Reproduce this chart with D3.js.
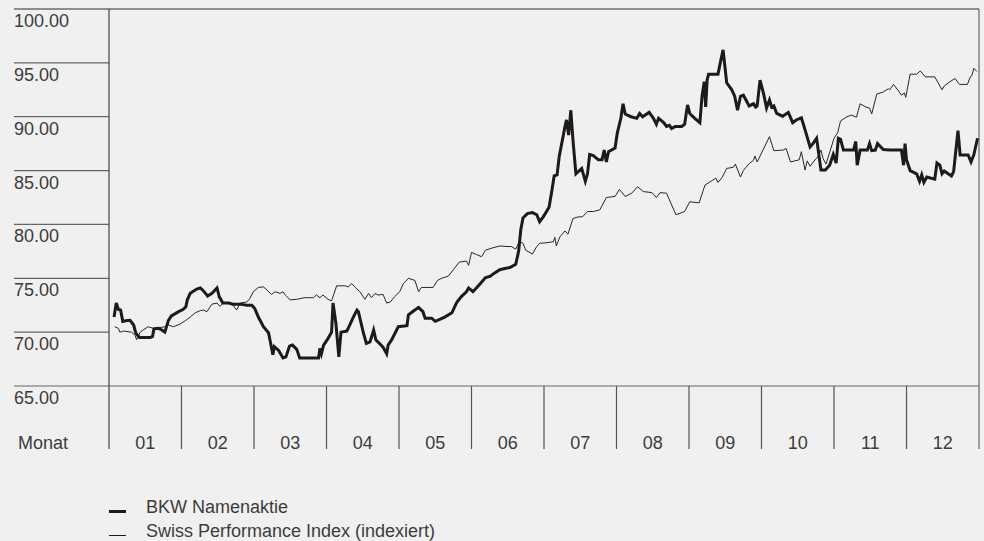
<!DOCTYPE html>
<html>
<head>
<meta charset="utf-8">
<script src="https://cdn.jsdelivr.net/npm/d3@7"></script>
<style>
  html, body { margin: 0; padding: 0; background: #f0f0f0; }
  svg { display: block; }
  text { font-family: "Liberation Sans", Arial, sans-serif; fill: #3c3c3c; }
</style>
</head>
<body>
<div class="chart"></div>
<script>
// Configuration
var width = 984;
var height = 541;

// month labels and value ticks
var months = ["01", "02", "03", "04", "05", "06", "07", "08", "09", "10", "11", "12"];
var yTicks = [65, 70, 75, 80, 85, 90, 95, 100];

// BKW Namenaktie: [month position, value]
var bkwSeries = [
  [0.07, 71.4], [0.10, 72.7], [0.13, 72.1], [0.16, 72.05], [0.19, 71.0], [0.23, 71.06],
  [0.29, 71.1], [0.34, 70.66], [0.37, 69.9], [0.42, 69.5], [0.47, 69.5], [0.57, 69.5],
  [0.60, 69.6], [0.62, 70.3], [0.68, 70.35], [0.73, 70.2], [0.77, 70.0], [0.82, 71.1],
  [0.86, 71.5], [0.96, 71.9], [1.02, 72.1], [1.06, 72.35], [1.08, 73.0], [1.12, 73.6],
  [1.21, 74.0], [1.26, 74.1], [1.30, 73.85], [1.36, 73.35], [1.42, 73.6], [1.49, 74.1],
  [1.52, 73.3], [1.57, 72.7], [1.65, 72.7], [1.71, 72.6], [1.81, 72.6], [1.90, 72.5],
  [1.97, 72.5], [2.01, 72.2], [2.06, 71.4], [2.13, 70.5], [2.20, 69.95], [2.23, 68.95],
  [2.26, 67.9], [2.28, 68.65], [2.34, 68.3], [2.40, 67.6], [2.44, 67.7], [2.49, 68.7],
  [2.53, 68.8], [2.59, 68.4], [2.63, 67.6], [2.73, 67.6], [2.89, 67.6], [2.91, 68.5],
  [2.93, 68.0], [2.96, 68.8], [3.02, 69.4], [3.07, 70.0], [3.09, 72.7], [3.13, 70.8],
  [3.17, 67.7], [3.20, 70.0], [3.28, 70.1], [3.32, 70.66], [3.37, 71.4], [3.42, 72.05],
  [3.44, 71.9], [3.51, 69.9], [3.55, 68.95], [3.60, 69.1], [3.65, 70.2], [3.68, 69.3],
  [3.78, 68.6], [3.83, 68.0], [3.85, 68.8], [3.90, 69.3], [3.99, 70.5], [4.11, 70.6],
  [4.13, 71.6], [4.20, 71.96], [4.27, 72.3], [4.33, 71.9], [4.36, 71.3], [4.45, 71.3],
  [4.50, 71.0], [4.57, 71.2], [4.63, 71.4], [4.73, 71.8], [4.80, 72.8], [4.86, 73.3],
  [4.93, 73.75], [4.96, 74.1], [5.02, 73.75], [5.12, 74.5], [5.19, 75.05], [5.26, 75.2],
  [5.32, 75.5], [5.39, 75.8], [5.46, 75.9], [5.53, 76.0], [5.61, 76.3], [5.65, 77.5],
  [5.68, 79.5], [5.71, 80.6], [5.77, 81.0], [5.84, 81.1], [5.90, 80.9], [5.94, 80.25],
  [5.99, 80.7], [6.07, 81.6], [6.11, 83.2], [6.14, 84.5], [6.18, 84.6], [6.21, 86.3],
  [6.29, 89.1], [6.31, 89.7], [6.34, 88.3], [6.37, 90.6], [6.40, 87.8], [6.44, 84.7],
  [6.52, 85.2], [6.57, 84.0], [6.60, 84.7], [6.63, 86.5], [6.68, 86.4], [6.75, 86.0],
  [6.80, 86.0], [6.83, 86.9], [6.86, 85.8], [6.89, 86.75], [6.98, 87.1], [7.01, 88.45],
  [7.06, 89.85], [7.09, 91.2], [7.12, 90.25], [7.20, 90.0], [7.28, 89.85], [7.32, 90.3],
  [7.36, 90.0], [7.45, 90.4], [7.51, 89.85], [7.55, 89.3], [7.58, 89.85], [7.65, 89.45],
  [7.69, 89.1], [7.73, 89.2], [7.76, 88.9], [7.81, 89.1], [7.90, 89.1], [7.94, 89.3],
  [7.98, 91.1], [8.01, 90.3], [8.08, 89.85], [8.15, 89.45], [8.18, 91.9], [8.21, 93.25],
  [8.23, 90.9], [8.25, 93.4], [8.27, 93.95], [8.40, 93.95], [8.43, 94.95], [8.47, 96.2],
  [8.52, 93.15], [8.59, 92.5], [8.63, 91.9], [8.67, 90.6], [8.71, 91.9], [8.75, 92.0],
  [8.83, 91.0], [8.89, 91.2], [8.92, 90.9], [8.94, 91.0], [8.98, 93.4], [9.03, 92.1],
  [9.07, 90.8], [9.11, 91.55], [9.14, 90.9], [9.17, 91.0], [9.21, 90.3], [9.29, 90.05],
  [9.37, 90.4], [9.43, 89.45], [9.48, 89.7], [9.55, 89.9], [9.60, 88.8], [9.67, 87.2],
  [9.71, 87.5], [9.76, 88.0], [9.82, 85.05], [9.88, 85.05], [9.94, 85.5], [9.99, 86.5],
  [10.03, 85.7], [10.06, 88.0], [10.09, 87.9], [10.13, 86.9], [10.27, 86.9], [10.30, 87.7],
  [10.32, 85.5], [10.36, 86.9], [10.46, 86.9], [10.49, 87.5], [10.52, 86.85], [10.57, 86.9],
  [10.60, 87.5], [10.68, 86.95], [10.77, 86.9], [10.93, 86.9], [10.96, 85.5], [10.98, 87.5],
  [11.00, 86.0], [11.05, 85.0], [11.14, 84.7], [11.18, 84.0], [11.21, 84.6], [11.24, 83.9],
  [11.28, 84.4], [11.39, 84.2], [11.42, 85.7], [11.46, 85.5], [11.49, 84.7], [11.52, 84.95],
  [11.62, 84.5], [11.65, 84.9], [11.71, 88.7], [11.74, 86.45], [11.85, 86.45], [11.89, 85.8],
  [11.93, 86.5], [11.98, 88.0]
];

// Swiss Performance Index (indexiert): [month position, value]
var spiSeries = [
  [0.08, 70.5], [0.13, 70.35], [0.15, 70.0], [0.20, 70.1], [0.31, 70.0], [0.36, 69.7],
  [0.38, 69.3], [0.43, 70.0], [0.47, 70.2], [0.54, 70.5], [0.61, 70.35], [0.68, 70.4],
  [0.77, 70.5], [0.82, 70.66], [0.89, 70.5], [0.98, 70.75], [1.05, 71.05], [1.12, 71.4],
  [1.19, 71.8], [1.26, 72.0], [1.30, 72.05], [1.35, 71.9], [1.42, 72.6], [1.49, 72.7],
  [1.53, 72.4], [1.58, 72.7], [1.67, 72.7], [1.71, 72.5], [1.76, 72.05], [1.81, 72.7],
  [1.90, 72.8], [1.94, 73.1], [1.99, 73.75], [2.06, 74.15], [2.13, 74.2], [2.18, 73.9],
  [2.24, 73.5], [2.29, 73.75], [2.36, 73.6], [2.40, 73.75], [2.43, 73.45], [2.50, 73.0],
  [2.59, 73.05], [2.70, 73.2], [2.82, 73.2], [2.86, 73.45], [2.91, 73.2], [2.95, 73.45],
  [3.02, 73.05], [3.07, 72.9], [3.14, 74.3], [3.26, 74.3], [3.30, 74.2], [3.35, 74.5],
  [3.39, 74.2], [3.46, 73.75], [3.53, 73.05], [3.58, 73.6], [3.62, 73.2], [3.67, 73.6],
  [3.71, 73.45], [3.78, 73.5], [3.83, 72.7], [3.88, 72.8], [3.94, 73.3], [4.01, 73.75],
  [4.06, 74.5], [4.13, 75.0], [4.22, 74.8], [4.27, 73.75], [4.31, 74.15], [4.47, 74.15],
  [4.53, 74.8], [4.59, 75.0], [4.68, 75.2], [4.75, 75.8], [4.83, 76.5], [4.93, 76.6],
  [4.96, 76.2], [5.00, 77.4], [5.07, 77.2], [5.14, 77.0], [5.19, 77.6], [5.28, 77.8],
  [5.39, 78.0], [5.49, 77.95], [5.55, 77.95], [5.61, 77.7], [5.66, 78.4], [5.71, 78.25],
  [5.75, 77.6], [5.84, 77.25], [5.90, 77.95], [5.94, 78.25], [6.04, 78.3], [6.13, 78.4],
  [6.15, 78.8], [6.17, 78.0], [6.22, 78.85], [6.29, 79.4], [6.33, 79.1], [6.40, 80.55],
  [6.47, 80.7], [6.53, 80.7], [6.60, 81.2], [6.68, 81.2], [6.77, 81.35], [6.86, 82.5],
  [6.98, 82.6], [7.04, 83.25], [7.12, 82.6], [7.21, 82.9], [7.29, 83.5], [7.37, 83.05],
  [7.49, 82.95], [7.55, 82.5], [7.60, 82.95], [7.69, 82.9], [7.82, 80.9], [7.94, 81.2],
  [8.01, 82.1], [8.14, 82.0], [8.22, 83.65], [8.29, 83.95], [8.37, 84.3], [8.40, 83.9],
  [8.46, 84.4], [8.52, 85.2], [8.61, 85.3], [8.64, 85.6], [8.71, 84.4], [8.75, 85.0],
  [8.83, 85.65], [8.89, 85.96], [8.91, 86.35], [8.94, 85.8], [9.11, 88.15], [9.17, 86.85],
  [9.30, 86.9], [9.34, 87.05], [9.40, 85.8], [9.52, 86.0], [9.55, 86.75], [9.60, 85.05],
  [9.63, 85.9], [9.67, 85.4], [9.75, 86.1], [9.78, 86.3], [9.82, 86.9], [9.85, 86.1],
  [9.89, 85.6], [9.95, 86.9], [10.00, 88.0], [10.05, 88.5], [10.09, 89.6], [10.18, 90.0],
  [10.24, 90.15], [10.31, 89.95], [10.36, 91.2], [10.44, 90.9], [10.49, 90.8], [10.52, 90.25],
  [10.59, 92.1], [10.68, 92.3], [10.75, 92.6], [10.77, 92.5], [10.82, 93.0], [10.89, 92.4],
  [10.93, 92.0], [10.97, 92.2], [10.99, 91.8], [11.05, 93.95], [11.14, 93.95], [11.19, 94.25],
  [11.26, 93.7], [11.39, 93.7], [11.49, 92.5], [11.52, 92.85], [11.60, 93.25], [11.67, 93.55],
  [11.73, 93.0], [11.84, 93.0], [11.88, 93.7], [11.90, 93.8], [11.93, 94.5], [11.97, 94.2]
];

var legendItems = [
  { label: "BKW Namenaktie", width: 3 },
  { label: "Swiss Performance Index (indexiert)", width: 1 }
];

// plot area (names kept off window.top etc.)
var plotLeft = 109, plotRight = 979, plotTop = 9, plotBottom = 386;
var labelX = 14, monthBottom = 449;
var fontSize = 18;

var x = d3.scaleLinear().domain([0, 12]).range([plotLeft, plotRight]);
var y = d3.scaleLinear().domain([65, 100]).range([plotBottom, plotTop]);

var svg = d3.select(".chart").append("svg")
    .attr("width", width)
    .attr("height", height);

svg.append("rect")
    .attr("width", width)
    .attr("height", height)
    .attr("fill", "#f0f0f0");

// value rows on the left
svg.selectAll("line.grid")
    .data(yTicks)
    .enter().append("line")
    .attr("class", "grid")
    .attr("x1", labelX)
    .attr("x2", function(d) { return (d === 100 || d === 65) ? plotRight : plotLeft; })
    .attr("y1", function(d) { return y(d); })
    .attr("y2", function(d) { return y(d); })
    .attr("stroke", function(d) { return d === 100 ? "#2b2b2b" : "#666"; })
    .attr("stroke-width", 1.2);

svg.selectAll("text.ytick")
    .data(yTicks)
    .enter().append("text")
    .attr("class", "ytick")
    .attr("x", labelX)
    .attr("y", function(d) { return y(d) + 18; })
    .attr("font-size", fontSize)
    .text(function(d) { return d3.format(".2f")(d); });

// frame
svg.append("line")
    .attr("x1", plotLeft).attr("x2", plotLeft)
    .attr("y1", plotTop).attr("y2", monthBottom)
    .attr("stroke", "#444").attr("stroke-width", 1.2);
svg.append("line")
    .attr("x1", plotRight).attr("x2", plotRight)
    .attr("y1", plotTop).attr("y2", monthBottom)
    .attr("stroke", "#666").attr("stroke-width", 1.2);

// month columns
var monthTicks = d3.range(1, 12);
svg.selectAll("line.month")
    .data(monthTicks)
    .enter().append("line")
    .attr("class", "month")
    .attr("x1", function(d) { return x(d); })
    .attr("x2", function(d) { return x(d); })
    .attr("y1", plotBottom)
    .attr("y2", monthBottom)
    .attr("stroke", "#555")
    .attr("stroke-width", 1.2);

svg.selectAll("text.month")
    .data(months)
    .enter().append("text")
    .attr("class", "month")
    .attr("x", function(d, i) { return x(i + 0.5); })
    .attr("y", monthBottom)
    .attr("text-anchor", "middle")
    .attr("font-size", fontSize)
    .text(function(d) { return d; });

svg.append("text")
    .attr("x", 18)
    .attr("y", monthBottom)
    .attr("font-size", fontSize)
    .text("Monat");

// lines
var line = d3.line()
    .x(function(d) { return x(d[0]); })
    .y(function(d) { return y(d[1]); });

svg.append("path")
    .datum(spiSeries)
    .attr("d", line)
    .attr("fill", "none")
    .attr("stroke", "#2a2622")
    .attr("stroke-width", 1)
    .attr("stroke-linejoin", "miter");

svg.append("path")
    .datum(bkwSeries)
    .attr("d", line)
    .attr("fill", "none")
    .attr("stroke", "#1e1a17")
    .attr("stroke-width", 3)
    .attr("stroke-linejoin", "miter");

// legend
var legend = svg.selectAll("g.legend")
    .data(legendItems)
    .enter().append("g")
    .attr("class", "legend")
    .attr("transform", function(d, i) { return "translate(0," + (i * 23.5) + ")"; });

legend.append("line")
    .attr("x1", 109)
    .attr("x2", 126)
    .attr("y1", function(d) { return d.width > 1 ? 511.5 : 512; })
    .attr("y2", function(d) { return d.width > 1 ? 511.5 : 512; })
    .attr("stroke", "#1e1a17")
    .attr("stroke-width", function(d) { return d.width; });

legend.append("text")
    .attr("x", 146)
    .attr("y", 513)
    .attr("font-size", fontSize)
    .text(function(d) { return d.label; });
</script>
</body>
</html>
